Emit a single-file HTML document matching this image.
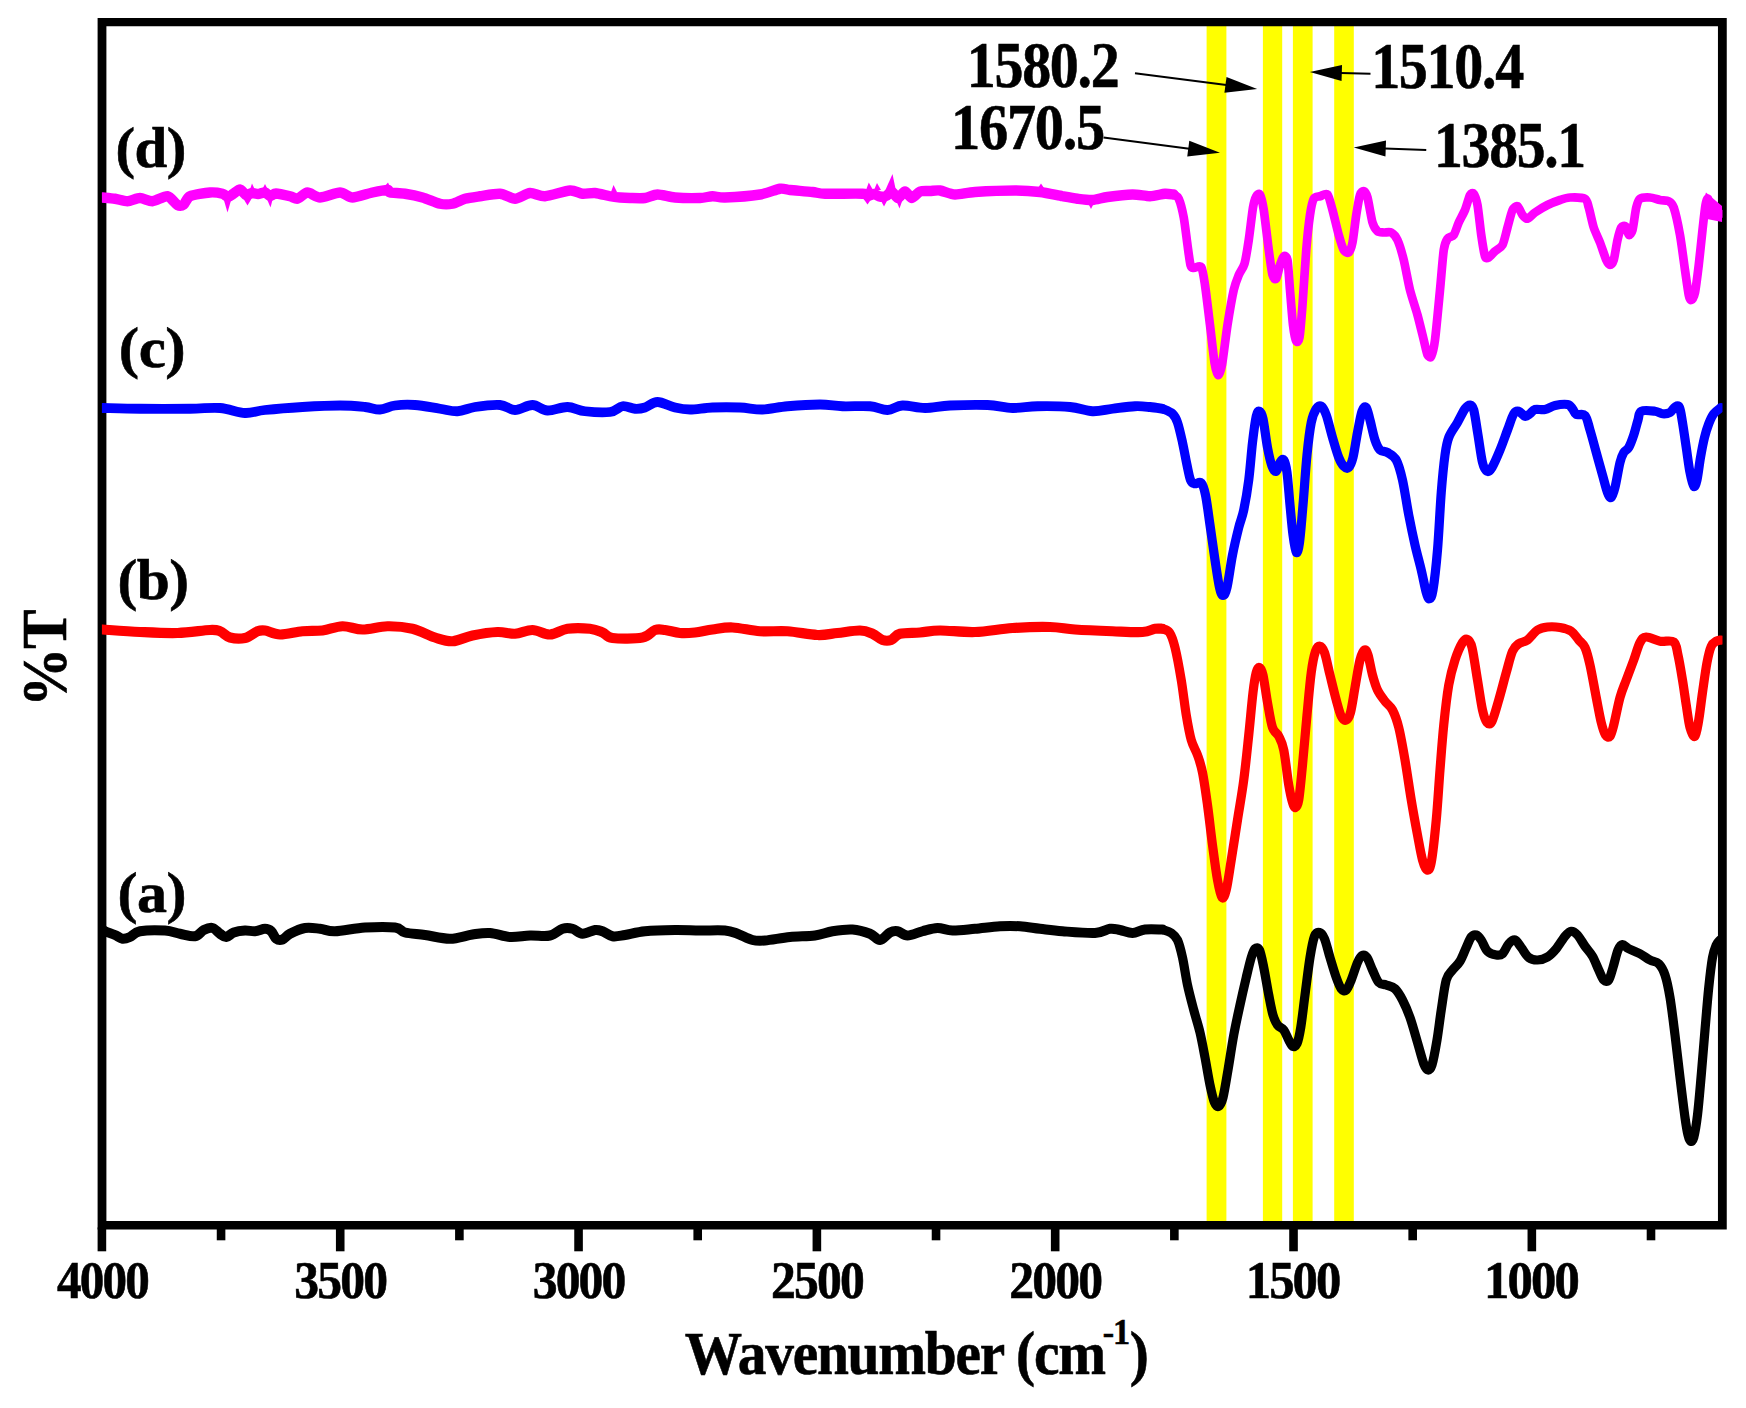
<!DOCTYPE html>
<html lang="en"><head><meta charset="utf-8"><title>FTIR spectra</title>
<style>html,body{margin:0;padding:0;background:#fff}svg{display:block}text{font-family:"Liberation Serif","Times New Roman",serif;font-weight:bold;fill:#000;stroke:#000;stroke-width:0.6px}</style>
</head><body>
<svg width="1746" height="1408" viewBox="0 0 1746 1408">
<rect x="0" y="0" width="1746" height="1408" fill="#fff"/>
<rect x="1206.6" y="22.0" width="19.8" height="1203.0" fill="#ffff00"/>
<rect x="1262.9" y="22.0" width="19.3" height="1203.0" fill="#ffff00"/>
<rect x="1292.9" y="22.0" width="19.7" height="1203.0" fill="#ffff00"/>
<rect x="1334.2" y="22.0" width="19.6" height="1203.0" fill="#ffff00"/>
<path fill="#000" fill-rule="evenodd" d="M97.60 17.95H1726.75V1229.40H97.60ZM106.40 26.25H1717.95V1221.00H106.40Z"/>
<clipPath id="plotclip"><rect x="101.90" y="0" width="1620.60" height="1408"/></clipPath>
<g fill="none" stroke-linejoin="round" stroke-linecap="round" clip-path="url(#plotclip)">
<path d="M102.50 197.50C104.06 197.66 111.88 198.28 115.00 198.75C118.12 199.22 124.38 201.34 127.50 201.25C130.62 201.16 136.88 198.00 140.00 198.00C143.12 198.00 149.06 201.47 152.50 201.25C155.94 201.03 164.38 195.78 167.50 196.25C170.62 196.72 175.47 203.97 177.50 205.00C179.53 206.03 182.19 205.59 183.75 204.50C185.31 203.41 186.72 197.75 190.00 196.25C193.28 194.75 205.94 192.81 210.00 192.50C214.06 192.19 220.25 193.19 222.50 193.75C224.75 194.31 226.69 196.97 228.00 197.00C229.31 197.03 231.50 194.94 233.00 194.00C234.50 193.06 238.38 189.38 240.00 189.50C241.62 189.62 244.50 194.56 246.00 195.00C247.50 195.44 250.50 193.12 252.00 193.00C253.50 192.88 256.38 194.06 258.00 194.00C259.62 193.94 263.50 192.25 265.00 192.50C266.50 192.75 268.62 195.88 270.00 196.00C271.38 196.12 273.50 193.47 276.00 193.50C278.50 193.53 287.31 195.59 290.00 196.25C292.69 196.91 295.31 199.22 297.50 198.75C299.69 198.28 304.69 192.66 307.50 192.50C310.31 192.34 315.94 197.50 320.00 197.50C324.06 197.50 335.94 192.50 340.00 192.50C344.06 192.50 348.44 197.50 352.50 197.50C356.56 197.50 368.12 193.44 372.50 192.50C376.88 191.56 385.31 190.00 387.50 190.00C389.69 190.00 387.81 192.03 390.00 192.50C392.19 192.97 400.94 193.12 405.00 193.75C409.06 194.38 418.12 196.25 422.50 197.50C426.88 198.75 436.25 202.97 440.00 203.75C443.75 204.53 449.38 204.38 452.50 203.75C455.62 203.12 461.56 199.69 465.00 198.75C468.44 197.81 475.62 196.88 480.00 196.25C484.38 195.62 495.62 193.44 500.00 193.75C504.38 194.06 511.25 198.84 515.00 198.75C518.75 198.66 526.25 193.31 530.00 193.00C533.75 192.69 540.00 196.56 545.00 196.25C550.00 195.94 565.31 190.81 570.00 190.50C574.69 190.19 579.38 193.44 582.50 193.75C585.62 194.06 591.56 192.69 595.00 193.00C598.44 193.31 606.88 195.69 610.00 196.25C613.12 196.81 617.50 197.28 620.00 197.50C622.50 197.72 626.88 197.94 630.00 198.00C633.12 198.06 641.56 198.44 645.00 198.00C648.44 197.56 653.75 194.56 657.50 194.50C661.25 194.44 669.69 197.06 675.00 197.50C680.31 197.94 695.31 198.16 700.00 198.00C704.69 197.84 709.38 196.31 712.50 196.25C715.62 196.19 719.06 197.72 725.00 197.50C730.94 197.28 753.12 195.59 760.00 194.50C766.88 193.41 776.25 189.31 780.00 188.75C783.75 188.19 785.94 189.59 790.00 190.00C794.06 190.41 808.12 191.53 812.50 192.00C816.88 192.47 818.75 193.53 825.00 193.75C831.25 193.97 857.12 193.47 862.50 193.75C867.88 194.03 866.56 195.97 868.00 196.00C869.44 196.03 872.50 193.94 874.00 194.00C875.50 194.06 878.50 196.25 880.00 196.50C881.50 196.75 884.50 196.56 886.00 196.00C887.50 195.44 890.50 191.75 892.00 192.00C893.50 192.25 896.38 198.06 898.00 198.00C899.62 197.94 903.25 191.50 905.00 191.50C906.75 191.50 910.12 198.00 912.00 198.00C913.88 198.00 917.75 192.38 920.00 191.50C922.25 190.62 927.50 191.12 930.00 191.00C932.50 190.88 936.88 190.06 940.00 190.50C943.12 190.94 950.62 194.31 955.00 194.50C959.38 194.69 967.50 192.50 975.00 192.00C982.50 191.50 1006.88 190.50 1015.00 190.50C1023.12 190.50 1034.06 191.28 1040.00 192.00C1045.94 192.72 1057.81 195.41 1062.50 196.25C1067.19 197.09 1073.75 198.28 1077.50 198.75C1081.25 199.22 1088.75 200.22 1092.50 200.00C1096.25 199.78 1102.50 197.69 1107.50 197.00C1112.50 196.31 1127.19 194.59 1132.50 194.50C1137.81 194.41 1145.94 196.34 1150.00 196.25C1154.06 196.16 1162.03 193.97 1165.00 193.75C1167.97 193.53 1172.66 194.41 1173.75 194.50" stroke="#ff00ff" stroke-width="10.4"/>
<path d="M1173.75 194.50C1174.38 195.03 1177.50 195.88 1178.75 198.75C1180.00 201.62 1182.66 211.72 1183.75 217.50C1184.84 223.28 1186.66 239.06 1187.50 245.00C1188.34 250.94 1189.72 262.12 1190.50 265.00C1191.28 267.88 1192.41 267.75 1193.75 268.00C1195.09 268.25 1199.84 264.88 1201.25 267.00C1202.66 269.12 1203.91 277.75 1205.00 285.00C1206.09 292.25 1208.81 315.31 1210.00 325.00C1211.19 334.69 1213.50 356.25 1214.50 362.50C1215.50 368.75 1217.06 374.69 1218.00 375.00C1218.94 375.31 1220.81 371.25 1222.00 365.00C1223.19 358.75 1226.03 334.38 1227.50 325.00C1228.97 315.62 1232.34 296.25 1233.75 290.00C1235.16 283.75 1237.41 278.28 1238.75 275.00C1240.09 271.72 1243.25 268.12 1244.50 263.75C1245.75 259.38 1247.69 247.03 1248.75 240.00C1249.81 232.97 1252.06 212.97 1253.00 207.50C1253.94 202.03 1255.38 197.88 1256.25 196.25C1257.12 194.62 1259.06 192.78 1260.00 194.50C1260.94 196.22 1262.66 203.06 1263.75 210.00C1264.84 216.94 1267.66 241.88 1268.75 250.00C1269.84 258.12 1271.56 271.41 1272.50 275.00C1273.44 278.59 1275.31 280.00 1276.25 278.75C1277.19 277.50 1279.06 267.81 1280.00 265.00C1280.94 262.19 1282.81 256.88 1283.75 256.25C1284.69 255.62 1286.72 255.78 1287.50 260.00C1288.28 264.22 1289.31 281.88 1290.00 290.00C1290.69 298.12 1292.22 318.59 1293.00 325.00C1293.78 331.41 1295.44 339.69 1296.25 341.25C1297.06 342.81 1298.72 342.03 1299.50 337.50C1300.28 332.97 1301.66 315.94 1302.50 305.00C1303.34 294.06 1305.31 261.25 1306.25 250.00C1307.19 238.75 1309.06 221.41 1310.00 215.00C1310.94 208.59 1312.50 201.09 1313.75 198.75C1315.00 196.41 1318.28 196.78 1320.00 196.25C1321.72 195.72 1325.94 192.78 1327.50 194.50C1329.06 196.22 1331.09 204.94 1332.50 210.00C1333.91 215.06 1337.34 230.00 1338.75 235.00C1340.16 240.00 1342.50 247.81 1343.75 250.00C1345.00 252.19 1347.66 253.44 1348.75 252.50C1349.84 251.56 1351.56 247.19 1352.50 242.50C1353.44 237.81 1355.31 220.94 1356.25 215.00C1357.19 209.06 1359.06 197.97 1360.00 195.00C1360.94 192.03 1362.81 190.94 1363.75 191.25C1364.69 191.56 1366.41 193.59 1367.50 197.50C1368.59 201.41 1371.25 218.28 1372.50 222.50C1373.75 226.72 1376.09 230.00 1377.50 231.25C1378.91 232.50 1382.03 232.34 1383.75 232.50C1385.47 232.66 1389.53 231.56 1391.25 232.50C1392.97 233.44 1395.94 236.56 1397.50 240.00C1399.06 243.44 1402.19 253.75 1403.75 260.00C1405.31 266.25 1408.28 283.12 1410.00 290.00C1411.72 296.88 1415.78 308.75 1417.50 315.00C1419.22 321.25 1422.50 335.00 1423.75 340.00C1425.00 345.00 1426.56 352.97 1427.50 355.00C1428.44 357.03 1430.31 358.12 1431.25 356.25C1432.19 354.38 1433.91 348.28 1435.00 340.00C1436.09 331.72 1438.91 301.25 1440.00 290.00C1441.09 278.75 1442.81 256.41 1443.75 250.00C1444.69 243.59 1446.25 240.62 1447.50 238.75C1448.75 236.88 1452.34 237.03 1453.75 235.00C1455.16 232.97 1457.34 225.62 1458.75 222.50C1460.16 219.38 1463.59 213.44 1465.00 210.00C1466.41 206.56 1468.91 197.03 1470.00 195.00C1471.09 192.97 1472.81 192.50 1473.75 193.75C1474.69 195.00 1476.56 199.84 1477.50 205.00C1478.44 210.16 1480.31 228.59 1481.25 235.00C1482.19 241.41 1484.06 253.44 1485.00 256.25C1485.94 259.06 1487.50 258.12 1488.75 257.50C1490.00 256.88 1493.28 252.81 1495.00 251.25C1496.72 249.69 1500.94 247.97 1502.50 245.00C1504.06 242.03 1506.25 231.88 1507.50 227.50C1508.75 223.12 1511.25 212.66 1512.50 210.00C1513.75 207.34 1516.25 205.62 1517.50 206.25C1518.75 206.88 1521.25 213.44 1522.50 215.00C1523.75 216.56 1525.94 219.06 1527.50 218.75C1529.06 218.44 1532.50 214.22 1535.00 212.50C1537.50 210.78 1544.38 206.56 1547.50 205.00C1550.62 203.44 1557.19 200.94 1560.00 200.00C1562.81 199.06 1566.88 197.66 1570.00 197.50C1573.12 197.34 1582.66 197.50 1585.00 198.75C1587.34 200.00 1587.66 203.91 1588.75 207.50C1589.84 211.09 1592.34 223.12 1593.75 227.50C1595.16 231.88 1598.44 238.44 1600.00 242.50C1601.56 246.56 1605.00 257.19 1606.25 260.00C1607.50 262.81 1609.06 265.00 1610.00 265.00C1610.94 265.00 1612.81 263.12 1613.75 260.00C1614.69 256.88 1616.56 244.06 1617.50 240.00C1618.44 235.94 1620.25 229.22 1621.25 227.50C1622.25 225.78 1624.56 225.31 1625.50 226.25C1626.44 227.19 1627.88 234.53 1628.75 235.00C1629.62 235.47 1631.56 233.44 1632.50 230.00C1633.44 226.56 1635.31 211.41 1636.25 207.50C1637.19 203.59 1638.28 200.00 1640.00 198.75C1641.72 197.50 1647.50 197.34 1650.00 197.50C1652.50 197.66 1657.66 199.53 1660.00 200.00C1662.34 200.47 1667.03 200.31 1668.75 201.25C1670.47 202.19 1672.34 203.28 1673.75 207.50C1675.16 211.72 1678.59 227.19 1680.00 235.00C1681.41 242.81 1683.91 262.50 1685.00 270.00C1686.09 277.50 1687.97 291.25 1688.75 295.00C1689.53 298.75 1690.47 300.31 1691.25 300.00C1692.03 299.69 1694.06 296.88 1695.00 292.50C1695.94 288.12 1697.81 272.81 1698.75 265.00C1699.69 257.19 1701.66 237.50 1702.50 230.00C1703.34 222.50 1704.81 208.91 1705.50 205.00C1706.19 201.09 1707.28 197.81 1708.00 198.75C1708.72 199.69 1710.22 210.47 1711.25 212.50C1712.28 214.53 1715.03 214.84 1716.25 215.00C1717.47 215.16 1720.41 213.91 1721.00 213.75" stroke="#ff00ff" stroke-width="8.7"/>
<polygon points="223.0,197.0 232.0,197.0 227.5,212.5" fill="#ff00ff" stroke="none"/>
<polygon points="249.5,191.0 255.5,191.0 252.0,183.5" fill="#ff00ff" stroke="none"/>
<polygon points="261.5,191.0 268.5,191.0 265.0,184.0" fill="#ff00ff" stroke="none"/>
<polygon points="266.5,198.0 273.0,198.0 270.5,207.5" fill="#ff00ff" stroke="none"/>
<polygon points="243.0,198.0 252.0,198.0 247.5,205.5" fill="#ff00ff" stroke="none"/>
<polygon points="866.0,190.0 873.0,190.0 868.8,182.5" fill="#ff00ff" stroke="none"/>
<polygon points="874.0,190.0 881.0,190.0 877.0,183.0" fill="#ff00ff" stroke="none"/>
<polygon points="885.0,191.0 896.0,191.0 892.5,174.0" fill="#ff00ff" stroke="none"/>
<polygon points="863.0,198.0 872.0,198.0 867.5,204.5" fill="#ff00ff" stroke="none"/>
<polygon points="880.0,199.0 888.0,199.0 884.0,206.5" fill="#ff00ff" stroke="none"/>
<polygon points="896.0,200.0 902.5,200.0 899.5,208.5" fill="#ff00ff" stroke="none"/>
<polygon points="611.0,192.0 617.0,192.0 613.5,185.0" fill="#ff00ff" stroke="none"/>
<polygon points="1038.0,188.0 1044.0,188.0 1041.0,183.5" fill="#ff00ff" stroke="none"/>
<polygon points="1088.0,203.0 1094.0,203.0 1091.0,209.0" fill="#ff00ff" stroke="none"/>
<polygon points="384.0,187.0 390.0,187.0 388.0,182.5" fill="#ff00ff" stroke="none"/>
<polygon points="1703.5,200.0 1706.0,192.5 1722.0,206.0 1722.0,222.0 1707.0,219.0" fill="#ff00ff" stroke="none"/>
<path d="M102.50 408.00C108.75 408.12 125.42 408.62 140.00 408.75C154.58 408.88 176.67 408.88 190.00 408.75C203.33 408.62 210.83 407.29 220.00 408.00C229.17 408.71 237.50 412.67 245.00 413.00C252.50 413.33 255.42 411.00 265.00 410.00C274.58 409.00 290.00 407.75 302.50 407.00C315.00 406.25 329.58 405.50 340.00 405.50C350.42 405.50 358.33 406.33 365.00 407.00C371.67 407.67 375.00 409.75 380.00 409.50C385.00 409.25 389.17 406.25 395.00 405.50C400.83 404.75 407.50 404.46 415.00 405.00C422.50 405.54 432.92 407.71 440.00 408.75C447.08 409.79 451.67 411.54 457.50 411.25C463.33 410.96 467.92 408.04 475.00 407.00C482.08 405.96 493.33 404.50 500.00 405.00C506.67 405.50 509.58 410.00 515.00 410.00C520.42 410.00 527.08 404.92 532.50 405.00C537.92 405.08 541.67 410.17 547.50 410.50C553.33 410.83 561.25 406.88 567.50 407.00C573.75 407.12 577.92 410.42 585.00 411.25C592.08 412.08 603.75 412.83 610.00 412.00C616.25 411.17 618.33 406.79 622.50 406.25C626.67 405.71 631.25 408.54 635.00 408.75C638.75 408.96 641.25 408.62 645.00 407.50C648.75 406.38 652.50 402.00 657.50 402.00C662.50 402.00 669.58 406.25 675.00 407.50C680.42 408.75 683.75 409.50 690.00 409.50C696.25 409.50 704.17 407.83 712.50 407.50C720.83 407.17 731.67 407.17 740.00 407.50C748.33 407.83 754.58 409.71 762.50 409.50C770.42 409.29 777.92 407.08 787.50 406.25C797.08 405.42 810.83 404.50 820.00 404.50C829.17 404.50 834.17 405.96 842.50 406.25C850.83 406.54 862.50 405.62 870.00 406.25C877.50 406.88 882.08 410.12 887.50 410.00C892.92 409.88 896.25 405.83 902.50 405.50C908.75 405.17 917.08 408.00 925.00 408.00C932.92 408.00 939.58 406.00 950.00 405.50C960.42 405.00 977.08 404.58 987.50 405.00C997.92 405.42 1004.17 407.79 1012.50 408.00C1020.83 408.21 1027.92 406.42 1037.50 406.25C1047.08 406.08 1060.83 406.17 1070.00 407.00C1079.17 407.83 1085.42 410.96 1092.50 411.25C1099.58 411.54 1105.42 409.58 1112.50 408.75C1119.58 407.92 1128.75 406.54 1135.00 406.25C1141.25 405.96 1145.42 406.58 1150.00 407.00C1154.58 407.42 1160.42 408.46 1162.50 408.75" stroke="#0000ff" stroke-width="9.8"/>
<path d="M1162.50 408.75C1164.17 409.58 1170.00 411.46 1172.50 413.75C1175.00 416.04 1175.83 417.71 1177.50 422.50C1179.17 427.29 1180.92 435.42 1182.50 442.50C1184.08 449.58 1185.67 458.75 1187.00 465.00C1188.33 471.25 1189.25 476.88 1190.50 480.00C1191.75 483.12 1192.71 483.25 1194.50 483.75C1196.29 484.25 1199.42 481.12 1201.25 483.00C1203.08 484.88 1204.04 488.00 1205.50 495.00C1206.96 502.00 1208.42 514.17 1210.00 525.00C1211.58 535.83 1213.42 549.58 1215.00 560.00C1216.58 570.42 1218.17 581.58 1219.50 587.50C1220.83 593.42 1221.75 595.50 1223.00 595.50C1224.25 595.50 1225.42 594.25 1227.00 587.50C1228.58 580.75 1230.54 565.00 1232.50 555.00C1234.46 545.00 1236.88 535.00 1238.75 527.50C1240.62 520.00 1242.08 517.92 1243.75 510.00C1245.42 502.08 1247.29 491.25 1248.75 480.00C1250.21 468.75 1251.25 453.12 1252.50 442.50C1253.75 431.88 1255.08 421.46 1256.25 416.25C1257.42 411.04 1258.38 410.83 1259.50 411.25C1260.62 411.67 1261.67 412.71 1263.00 418.75C1264.33 424.79 1266.00 439.58 1267.50 447.50C1269.00 455.42 1270.54 462.29 1272.00 466.25C1273.46 470.21 1274.92 471.88 1276.25 471.25C1277.58 470.62 1278.75 464.38 1280.00 462.50C1281.25 460.62 1282.58 458.33 1283.75 460.00C1284.92 461.67 1285.96 465.00 1287.00 472.50C1288.04 480.00 1289.00 494.58 1290.00 505.00C1291.00 515.42 1291.96 527.08 1293.00 535.00C1294.04 542.92 1295.17 551.25 1296.25 552.50C1297.33 553.75 1298.38 550.42 1299.50 542.50C1300.62 534.58 1301.75 519.58 1303.00 505.00C1304.25 490.42 1305.62 468.75 1307.00 455.00C1308.38 441.25 1309.71 430.21 1311.25 422.50C1312.79 414.79 1314.58 411.46 1316.25 408.75C1317.92 406.04 1319.58 405.21 1321.25 406.25C1322.92 407.29 1324.38 409.79 1326.25 415.00C1328.12 420.21 1330.42 430.42 1332.50 437.50C1334.58 444.58 1336.88 452.71 1338.75 457.50C1340.62 462.29 1342.08 464.58 1343.75 466.25C1345.42 467.92 1347.21 468.96 1348.75 467.50C1350.29 466.04 1351.54 463.33 1353.00 457.50C1354.46 451.67 1356.00 440.21 1357.50 432.50C1359.00 424.79 1360.54 415.42 1362.00 411.25C1363.46 407.08 1364.92 406.04 1366.25 407.50C1367.58 408.96 1368.54 414.58 1370.00 420.00C1371.46 425.42 1373.33 435.00 1375.00 440.00C1376.67 445.00 1377.92 447.92 1380.00 450.00C1382.08 452.08 1384.79 450.83 1387.50 452.50C1390.21 454.17 1393.75 455.42 1396.25 460.00C1398.75 464.58 1400.42 470.83 1402.50 480.00C1404.58 489.17 1406.67 504.17 1408.75 515.00C1410.83 525.83 1412.92 535.83 1415.00 545.00C1417.08 554.17 1419.38 562.08 1421.25 570.00C1423.12 577.92 1424.88 587.71 1426.25 592.50C1427.62 597.29 1428.38 599.17 1429.50 598.75C1430.62 598.33 1431.67 598.12 1433.00 590.00C1434.33 581.88 1436.12 566.25 1437.50 550.00C1438.88 533.75 1440.00 508.33 1441.25 492.50C1442.50 476.67 1443.75 464.17 1445.00 455.00C1446.25 445.83 1446.67 442.92 1448.75 437.50C1450.83 432.08 1454.79 427.29 1457.50 422.50C1460.21 417.71 1462.92 411.67 1465.00 408.75C1467.08 405.83 1468.54 404.79 1470.00 405.00C1471.46 405.21 1472.42 405.00 1473.75 410.00C1475.08 415.00 1476.54 426.25 1478.00 435.00C1479.46 443.75 1481.00 456.46 1482.50 462.50C1484.00 468.54 1485.42 470.42 1487.00 471.25C1488.58 472.08 1489.83 471.04 1492.00 467.50C1494.17 463.96 1497.42 456.25 1500.00 450.00C1502.58 443.75 1505.21 436.04 1507.50 430.00C1509.79 423.96 1511.88 416.88 1513.75 413.75C1515.62 410.62 1516.88 410.83 1518.75 411.25C1520.62 411.67 1523.12 415.83 1525.00 416.25C1526.88 416.67 1528.33 414.88 1530.00 413.75C1531.67 412.62 1532.50 410.21 1535.00 409.50C1537.50 408.79 1541.67 410.17 1545.00 409.50C1548.33 408.83 1551.25 406.33 1555.00 405.50C1558.75 404.67 1564.58 403.96 1567.50 404.50C1570.42 405.04 1571.04 407.08 1572.50 408.75C1573.96 410.42 1574.17 413.38 1576.25 414.50C1578.33 415.62 1582.71 412.92 1585.00 415.50C1587.29 418.08 1588.12 423.83 1590.00 430.00C1591.88 436.17 1594.17 445.00 1596.25 452.50C1598.33 460.00 1600.62 468.33 1602.50 475.00C1604.38 481.67 1606.04 488.75 1607.50 492.50C1608.96 496.25 1610.00 498.33 1611.25 497.50C1612.50 496.67 1613.54 493.33 1615.00 487.50C1616.46 481.67 1618.54 468.33 1620.00 462.50C1621.46 456.67 1622.29 455.00 1623.75 452.50C1625.21 450.00 1627.08 450.42 1628.75 447.50C1630.42 444.58 1632.21 439.58 1633.75 435.00C1635.29 430.42 1636.75 423.96 1638.00 420.00C1639.25 416.04 1638.42 412.71 1641.25 411.25C1644.08 409.79 1651.46 410.83 1655.00 411.25C1658.54 411.67 1660.00 413.54 1662.50 413.75C1665.00 413.96 1667.92 413.62 1670.00 412.50C1672.08 411.38 1673.42 407.83 1675.00 407.00C1676.58 406.17 1678.25 404.92 1679.50 407.50C1680.75 410.08 1681.38 415.83 1682.50 422.50C1683.62 429.17 1685.00 439.17 1686.25 447.50C1687.50 455.83 1688.75 466.04 1690.00 472.50C1691.25 478.96 1692.58 485.00 1693.75 486.25C1694.92 487.50 1695.88 484.79 1697.00 480.00C1698.12 475.21 1699.25 464.58 1700.50 457.50C1701.75 450.42 1703.12 443.12 1704.50 437.50C1705.88 431.88 1707.21 427.71 1708.75 423.75C1710.29 419.79 1711.71 416.46 1713.75 413.75C1715.79 411.04 1719.79 408.54 1721.00 407.50" stroke="#0000ff" stroke-width="9.2"/>
<path d="M102.50 629.50C108.75 629.92 127.50 631.42 140.00 632.00C152.50 632.58 165.83 633.33 177.50 633.00C189.17 632.67 202.92 630.29 210.00 630.00C217.08 629.71 216.67 630.00 220.00 631.25C223.33 632.50 225.83 636.38 230.00 637.50C234.17 638.62 240.42 639.04 245.00 638.00C249.58 636.96 254.17 632.50 257.50 631.25C260.83 630.00 261.25 629.96 265.00 630.50C268.75 631.04 273.75 634.38 280.00 634.50C286.25 634.62 295.42 631.92 302.50 631.25C309.58 630.58 315.83 631.33 322.50 630.50C329.17 629.67 335.83 626.42 342.50 626.25C349.17 626.08 355.00 629.50 362.50 629.50C370.00 629.50 379.17 626.38 387.50 626.25C395.83 626.12 404.58 626.88 412.50 628.75C420.42 630.62 428.33 635.42 435.00 637.50C441.67 639.58 446.25 641.58 452.50 641.25C458.75 640.92 465.00 637.04 472.50 635.50C480.00 633.96 490.42 632.29 497.50 632.00C504.58 631.71 509.17 634.08 515.00 633.75C520.83 633.42 526.67 629.88 532.50 630.00C538.33 630.12 544.17 634.71 550.00 634.50C555.83 634.29 560.83 629.71 567.50 628.75C574.17 627.79 584.17 628.12 590.00 628.75C595.83 629.38 598.75 630.96 602.50 632.50C606.25 634.04 605.83 637.17 612.50 638.00C619.17 638.83 635.42 638.83 642.50 637.50C649.58 636.17 651.25 631.25 655.00 630.00C658.75 628.75 660.83 629.50 665.00 630.00C669.17 630.50 675.00 632.58 680.00 633.00C685.00 633.42 689.58 633.08 695.00 632.50C700.42 631.92 706.25 630.33 712.50 629.50C718.75 628.67 724.58 627.21 732.50 627.50C740.42 627.79 750.83 630.62 760.00 631.25C769.17 631.88 777.92 630.62 787.50 631.25C797.08 631.88 809.17 634.71 817.50 635.00C825.83 635.29 830.42 633.75 837.50 633.00C844.58 632.25 854.17 630.38 860.00 630.50C865.83 630.62 868.75 632.17 872.50 633.75C876.25 635.33 879.38 638.96 882.50 640.00C885.62 641.04 888.33 641.04 891.25 640.00C894.17 638.96 895.21 635.00 900.00 633.75C904.79 632.50 913.33 633.04 920.00 632.50C926.67 631.96 930.83 630.58 940.00 630.50C949.17 630.42 962.92 632.42 975.00 632.00C987.08 631.58 1000.00 628.83 1012.50 628.00C1025.00 627.17 1039.58 626.75 1050.00 627.00C1060.42 627.25 1064.58 628.79 1075.00 629.50C1085.42 630.21 1101.25 630.83 1112.50 631.25C1123.75 631.67 1135.42 632.42 1142.50 632.00C1149.58 631.58 1151.67 629.29 1155.00 628.75C1158.33 628.21 1161.25 628.75 1162.50 628.75" stroke="#ff0000" stroke-width="10.2"/>
<path d="M1162.50 628.75C1163.67 629.38 1167.42 629.38 1169.50 632.50C1171.58 635.62 1173.04 639.58 1175.00 647.50C1176.96 655.42 1179.38 668.75 1181.25 680.00C1183.12 691.25 1184.58 705.00 1186.25 715.00C1187.92 725.00 1189.38 733.33 1191.25 740.00C1193.12 746.67 1195.62 749.58 1197.50 755.00C1199.38 760.42 1200.83 764.17 1202.50 772.50C1204.17 780.83 1205.83 792.92 1207.50 805.00C1209.17 817.08 1210.83 832.50 1212.50 845.00C1214.17 857.50 1215.92 871.25 1217.50 880.00C1219.08 888.75 1220.54 895.83 1222.00 897.50C1223.46 899.17 1224.71 896.25 1226.25 890.00C1227.79 883.75 1229.38 871.67 1231.25 860.00C1233.12 848.33 1235.42 833.33 1237.50 820.00C1239.58 806.67 1241.88 794.17 1243.75 780.00C1245.62 765.83 1247.21 749.58 1248.75 735.00C1250.29 720.42 1251.75 702.92 1253.00 692.50C1254.25 682.08 1255.17 676.67 1256.25 672.50C1257.33 668.33 1258.38 667.08 1259.50 667.50C1260.62 667.92 1261.67 669.17 1263.00 675.00C1264.33 680.83 1265.92 693.75 1267.50 702.50C1269.08 711.25 1270.62 721.88 1272.50 727.50C1274.38 733.12 1276.88 732.50 1278.75 736.25C1280.62 740.00 1282.08 741.88 1283.75 750.00C1285.42 758.12 1287.29 776.25 1288.75 785.00C1290.21 793.75 1291.38 798.75 1292.50 802.50C1293.62 806.25 1294.46 807.92 1295.50 807.50C1296.54 807.08 1297.58 807.08 1298.75 800.00C1299.92 792.92 1301.12 779.17 1302.50 765.00C1303.88 750.83 1305.54 730.42 1307.00 715.00C1308.46 699.58 1309.83 683.12 1311.25 672.50C1312.67 661.88 1314.04 655.62 1315.50 651.25C1316.96 646.88 1318.50 646.04 1320.00 646.25C1321.50 646.46 1322.83 647.71 1324.50 652.50C1326.17 657.29 1328.04 667.08 1330.00 675.00C1331.96 682.92 1334.38 693.12 1336.25 700.00C1338.12 706.88 1339.58 712.92 1341.25 716.25C1342.92 719.58 1344.71 720.62 1346.25 720.00C1347.79 719.38 1349.04 717.92 1350.50 712.50C1351.96 707.08 1353.42 696.25 1355.00 687.50C1356.58 678.75 1358.42 666.25 1360.00 660.00C1361.58 653.75 1363.17 650.83 1364.50 650.00C1365.83 649.17 1366.67 650.83 1368.00 655.00C1369.33 659.17 1370.92 669.17 1372.50 675.00C1374.08 680.83 1375.42 685.62 1377.50 690.00C1379.58 694.38 1382.50 697.92 1385.00 701.25C1387.50 704.58 1390.21 705.62 1392.50 710.00C1394.79 714.38 1396.67 719.17 1398.75 727.50C1400.83 735.83 1402.92 747.92 1405.00 760.00C1407.08 772.08 1409.17 787.50 1411.25 800.00C1413.33 812.50 1415.62 825.00 1417.50 835.00C1419.38 845.00 1420.92 854.17 1422.50 860.00C1424.08 865.83 1425.54 869.58 1427.00 870.00C1428.46 870.42 1429.71 870.83 1431.25 862.50C1432.79 854.17 1434.79 835.42 1436.25 820.00C1437.71 804.58 1438.75 785.83 1440.00 770.00C1441.25 754.17 1442.29 739.17 1443.75 725.00C1445.21 710.83 1446.88 695.83 1448.75 685.00C1450.62 674.17 1452.71 667.08 1455.00 660.00C1457.29 652.92 1460.42 645.92 1462.50 642.50C1464.58 639.08 1465.92 638.67 1467.50 639.50C1469.08 640.33 1470.33 640.75 1472.00 647.50C1473.67 654.25 1475.75 669.58 1477.50 680.00C1479.25 690.42 1480.92 702.92 1482.50 710.00C1484.08 717.08 1485.42 720.62 1487.00 722.50C1488.58 724.38 1490.04 725.00 1492.00 721.25C1493.96 717.50 1496.38 708.12 1498.75 700.00C1501.12 691.88 1503.96 680.62 1506.25 672.50C1508.54 664.38 1510.42 656.04 1512.50 651.25C1514.58 646.46 1516.25 645.62 1518.75 643.75C1521.25 641.88 1524.38 642.29 1527.50 640.00C1530.62 637.71 1534.17 632.17 1537.50 630.00C1540.83 627.83 1543.75 627.42 1547.50 627.00C1551.25 626.58 1556.04 626.79 1560.00 627.50C1563.96 628.21 1568.12 629.17 1571.25 631.25C1574.38 633.33 1576.46 637.29 1578.75 640.00C1581.04 642.71 1583.12 643.33 1585.00 647.50C1586.88 651.67 1588.12 656.67 1590.00 665.00C1591.88 673.33 1594.38 687.92 1596.25 697.50C1598.12 707.08 1599.71 716.25 1601.25 722.50C1602.79 728.75 1604.04 732.71 1605.50 735.00C1606.96 737.29 1608.62 737.92 1610.00 736.25C1611.38 734.58 1612.08 731.46 1613.75 725.00C1615.42 718.54 1617.92 705.00 1620.00 697.50C1622.08 690.00 1623.96 686.25 1626.25 680.00C1628.54 673.75 1631.46 666.25 1633.75 660.00C1636.04 653.75 1637.92 646.33 1640.00 642.50C1642.08 638.67 1642.92 637.21 1646.25 637.00C1649.58 636.79 1655.42 640.42 1660.00 641.25C1664.58 642.08 1670.75 639.71 1673.75 642.00C1676.75 644.29 1676.54 648.67 1678.00 655.00C1679.46 661.33 1681.12 671.67 1682.50 680.00C1683.88 688.33 1685.00 697.08 1686.25 705.00C1687.50 712.92 1688.54 722.29 1690.00 727.50C1691.46 732.71 1693.54 737.50 1695.00 736.25C1696.46 735.00 1697.50 727.29 1698.75 720.00C1700.00 712.71 1701.12 702.08 1702.50 692.50C1703.88 682.92 1705.54 670.21 1707.00 662.50C1708.46 654.79 1709.71 649.79 1711.25 646.25C1712.79 642.71 1714.62 642.29 1716.25 641.25C1717.88 640.21 1720.21 640.21 1721.00 640.00" stroke="#ff0000" stroke-width="9.2"/>
<path d="M101.00 928.50C101.67 928.96 102.67 930.17 105.00 931.25C107.33 932.33 112.08 933.75 115.00 935.00C117.92 936.25 120.00 938.42 122.50 938.75C125.00 939.08 127.08 938.25 130.00 937.00C132.92 935.75 134.17 932.33 140.00 931.25C145.83 930.17 158.33 930.08 165.00 930.50C171.67 930.92 175.00 932.79 180.00 933.75C185.00 934.71 191.04 936.88 195.00 936.25C198.96 935.62 200.83 931.38 203.75 930.00C206.67 928.62 209.79 927.38 212.50 928.00C215.21 928.62 217.71 932.25 220.00 933.75C222.29 935.25 223.96 937.21 226.25 937.00C228.54 936.79 230.62 933.58 233.75 932.50C236.88 931.42 241.46 930.71 245.00 930.50C248.54 930.29 251.67 931.54 255.00 931.25C258.33 930.96 262.29 928.75 265.00 928.75C267.71 928.75 269.38 929.58 271.25 931.25C273.12 932.92 274.38 937.38 276.25 938.75C278.12 940.12 280.21 940.33 282.50 939.50C284.79 938.67 286.25 935.67 290.00 933.75C293.75 931.83 300.00 928.83 305.00 928.00C310.00 927.17 315.00 928.21 320.00 928.75C325.00 929.29 327.50 931.46 335.00 931.25C342.50 931.04 355.00 928.12 365.00 927.50C375.00 926.88 388.33 926.67 395.00 927.50C401.67 928.33 400.00 931.25 405.00 932.50C410.00 933.75 417.50 933.96 425.00 935.00C432.50 936.04 442.08 938.83 450.00 938.75C457.92 938.67 465.83 935.46 472.50 934.50C479.17 933.54 483.75 932.58 490.00 933.00C496.25 933.42 503.33 936.58 510.00 937.00C516.67 937.42 523.33 935.75 530.00 935.50C536.67 935.25 544.58 936.62 550.00 935.50C555.42 934.38 558.75 929.88 562.50 928.75C566.25 927.62 569.17 927.92 572.50 928.75C575.83 929.58 578.75 933.54 582.50 933.75C586.25 933.96 591.67 930.42 595.00 930.00C598.33 929.58 599.58 930.21 602.50 931.25C605.42 932.29 608.75 935.62 612.50 936.25C616.25 936.88 619.58 935.83 625.00 935.00C630.42 934.17 636.67 932.08 645.00 931.25C653.33 930.42 665.83 930.12 675.00 930.00C684.17 929.88 691.67 930.42 700.00 930.50C708.33 930.58 718.75 929.96 725.00 930.50C731.25 931.04 732.92 932.17 737.50 933.75C742.08 935.33 747.92 938.88 752.50 940.00C757.08 941.12 758.75 941.00 765.00 940.50C771.25 940.00 781.67 937.83 790.00 937.00C798.33 936.17 807.92 936.46 815.00 935.50C822.08 934.54 826.25 932.25 832.50 931.25C838.75 930.25 846.25 929.08 852.50 929.50C858.75 929.92 865.42 932.00 870.00 933.75C874.58 935.50 876.67 940.21 880.00 940.00C883.33 939.79 887.08 933.96 890.00 932.50C892.92 931.04 894.58 930.75 897.50 931.25C900.42 931.75 903.33 935.50 907.50 935.50C911.67 935.50 917.50 932.50 922.50 931.25C927.50 930.00 932.50 928.12 937.50 928.00C942.50 927.88 946.25 930.38 952.50 930.50C958.75 930.62 967.08 929.46 975.00 928.75C982.92 928.04 992.50 926.67 1000.00 926.25C1007.50 925.83 1013.33 925.83 1020.00 926.25C1026.67 926.67 1032.92 927.92 1040.00 928.75C1047.08 929.58 1053.33 930.54 1062.50 931.25C1071.67 931.96 1087.08 933.42 1095.00 933.00C1102.92 932.58 1105.83 929.25 1110.00 928.75C1114.17 928.25 1116.25 929.29 1120.00 930.00C1123.75 930.71 1128.33 933.08 1132.50 933.00C1136.67 932.92 1140.00 930.08 1145.00 929.50C1150.00 928.92 1159.58 929.50 1162.50 929.50" stroke="#000000" stroke-width="10.0"/>
<path d="M1162.50 929.50C1163.96 930.08 1168.75 931.25 1171.25 933.00C1173.75 934.75 1175.62 935.92 1177.50 940.00C1179.38 944.08 1180.83 950.00 1182.50 957.50C1184.17 965.00 1185.62 976.25 1187.50 985.00C1189.38 993.75 1191.67 1002.08 1193.75 1010.00C1195.83 1017.92 1198.12 1024.58 1200.00 1032.50C1201.88 1040.42 1203.33 1048.75 1205.00 1057.50C1206.67 1066.25 1208.42 1077.50 1210.00 1085.00C1211.58 1092.50 1213.04 1098.96 1214.50 1102.50C1215.96 1106.04 1217.33 1107.08 1218.75 1106.25C1220.17 1105.42 1221.46 1103.54 1223.00 1097.50C1224.54 1091.46 1226.21 1080.42 1228.00 1070.00C1229.79 1059.58 1231.75 1045.83 1233.75 1035.00C1235.75 1024.17 1237.92 1014.58 1240.00 1005.00C1242.08 995.42 1244.38 985.42 1246.25 977.50C1248.12 969.58 1249.79 962.29 1251.25 957.50C1252.71 952.71 1253.62 950.00 1255.00 948.75C1256.38 947.50 1258.04 946.88 1259.50 950.00C1260.96 953.12 1262.21 960.00 1263.75 967.50C1265.29 975.00 1267.21 987.08 1268.75 995.00C1270.29 1002.92 1271.54 1010.00 1273.00 1015.00C1274.46 1020.00 1275.71 1022.50 1277.50 1025.00C1279.29 1027.50 1281.88 1027.50 1283.75 1030.00C1285.62 1032.50 1287.29 1037.29 1288.75 1040.00C1290.21 1042.71 1291.12 1045.62 1292.50 1046.25C1293.88 1046.88 1295.62 1046.88 1297.00 1043.75C1298.38 1040.62 1299.42 1035.62 1300.75 1027.50C1302.08 1019.38 1303.46 1006.67 1305.00 995.00C1306.54 983.33 1308.42 967.29 1310.00 957.50C1311.58 947.71 1312.92 940.42 1314.50 936.25C1316.08 932.08 1317.83 932.08 1319.50 932.50C1321.17 932.92 1322.75 934.58 1324.50 938.75C1326.25 942.92 1328.04 951.04 1330.00 957.50C1331.96 963.96 1334.38 972.29 1336.25 977.50C1338.12 982.71 1339.58 986.67 1341.25 988.75C1342.92 990.83 1344.58 991.46 1346.25 990.00C1347.92 988.54 1349.38 984.58 1351.25 980.00C1353.12 975.42 1355.71 966.58 1357.50 962.50C1359.29 958.42 1360.42 956.33 1362.00 955.50C1363.58 954.67 1365.25 955.08 1367.00 957.50C1368.75 959.92 1370.54 965.83 1372.50 970.00C1374.46 974.17 1376.46 980.00 1378.75 982.50C1381.04 985.00 1383.54 983.96 1386.25 985.00C1388.96 986.04 1392.29 986.25 1395.00 988.75C1397.71 991.25 1400.00 995.21 1402.50 1000.00C1405.00 1004.79 1407.50 1010.42 1410.00 1017.50C1412.50 1024.58 1415.21 1034.79 1417.50 1042.50C1419.79 1050.21 1422.00 1059.17 1423.75 1063.75C1425.50 1068.33 1426.62 1069.79 1428.00 1070.00C1429.38 1070.21 1430.50 1070.00 1432.00 1065.00C1433.50 1060.00 1435.46 1049.17 1437.00 1040.00C1438.54 1030.83 1439.71 1020.00 1441.25 1010.00C1442.79 1000.00 1444.38 986.67 1446.25 980.00C1448.12 973.33 1450.21 973.12 1452.50 970.00C1454.79 966.88 1457.71 965.00 1460.00 961.25C1462.29 957.50 1464.38 951.54 1466.25 947.50C1468.12 943.46 1469.58 939.08 1471.25 937.00C1472.92 934.92 1474.58 934.50 1476.25 935.00C1477.92 935.50 1479.38 937.29 1481.25 940.00C1483.12 942.71 1485.00 948.75 1487.50 951.25C1490.00 953.75 1493.75 954.58 1496.25 955.00C1498.75 955.42 1500.42 955.62 1502.50 953.75C1504.58 951.88 1506.67 946.04 1508.75 943.75C1510.83 941.46 1512.92 939.38 1515.00 940.00C1517.08 940.62 1518.96 944.58 1521.25 947.50C1523.54 950.42 1526.04 955.42 1528.75 957.50C1531.46 959.58 1534.38 960.08 1537.50 960.00C1540.62 959.92 1544.38 958.88 1547.50 957.00C1550.62 955.12 1553.33 952.21 1556.25 948.75C1559.17 945.29 1562.50 939.17 1565.00 936.25C1567.50 933.33 1569.17 931.46 1571.25 931.25C1573.33 931.04 1575.21 932.50 1577.50 935.00C1579.79 937.50 1582.50 942.71 1585.00 946.25C1587.50 949.79 1590.21 952.29 1592.50 956.25C1594.79 960.21 1596.88 966.04 1598.75 970.00C1600.62 973.96 1602.08 978.33 1603.75 980.00C1605.42 981.67 1607.21 982.08 1608.75 980.00C1610.29 977.92 1611.46 972.50 1613.00 967.50C1614.54 962.50 1616.42 953.83 1618.00 950.00C1619.58 946.17 1620.71 944.71 1622.50 944.50C1624.29 944.29 1625.83 947.21 1628.75 948.75C1631.67 950.29 1636.46 951.88 1640.00 953.75C1643.54 955.62 1646.88 958.33 1650.00 960.00C1653.12 961.67 1656.25 961.25 1658.75 963.75C1661.25 966.25 1663.12 969.38 1665.00 975.00C1666.88 980.62 1668.33 987.50 1670.00 997.50C1671.67 1007.50 1673.33 1021.67 1675.00 1035.00C1676.67 1048.33 1678.33 1063.75 1680.00 1077.50C1681.67 1091.25 1683.67 1107.92 1685.00 1117.50C1686.33 1127.08 1687.08 1131.04 1688.00 1135.00C1688.92 1138.96 1689.54 1140.83 1690.50 1141.25C1691.46 1141.67 1692.58 1141.88 1693.75 1137.50C1694.92 1133.12 1696.25 1125.42 1697.50 1115.00C1698.75 1104.58 1700.00 1089.17 1701.25 1075.00C1702.50 1060.83 1703.75 1044.58 1705.00 1030.00C1706.25 1015.42 1707.50 999.58 1708.75 987.50C1710.00 975.42 1711.25 964.58 1712.50 957.50C1713.75 950.42 1715.00 947.92 1716.25 945.00C1717.50 942.08 1719.38 940.83 1720.00 940.00" stroke="#000000" stroke-width="9.2"/>
</g>
<rect x="97.60" y="1227.40" width="8.6" height="23.90" fill="#000"/>
<rect x="216.76" y="1227.40" width="8.6" height="12.90" fill="#000"/>
<rect x="335.92" y="1227.40" width="8.6" height="23.90" fill="#000"/>
<rect x="455.09" y="1227.40" width="8.6" height="12.90" fill="#000"/>
<rect x="574.25" y="1227.40" width="8.6" height="23.90" fill="#000"/>
<rect x="693.41" y="1227.40" width="8.6" height="12.90" fill="#000"/>
<rect x="812.57" y="1227.40" width="8.6" height="23.90" fill="#000"/>
<rect x="931.73" y="1227.40" width="8.6" height="12.90" fill="#000"/>
<rect x="1050.89" y="1227.40" width="8.6" height="23.90" fill="#000"/>
<rect x="1170.06" y="1227.40" width="8.6" height="12.90" fill="#000"/>
<rect x="1289.22" y="1227.40" width="8.6" height="23.90" fill="#000"/>
<rect x="1408.38" y="1227.40" width="8.6" height="12.90" fill="#000"/>
<rect x="1527.54" y="1227.40" width="8.6" height="23.90" fill="#000"/>
<rect x="1646.70" y="1227.40" width="8.6" height="12.90" fill="#000"/>
<text transform="translate(56.98,1297.60) scale(0.9184,1)" font-size="53.5" letter-spacing="-2.0">4000</text>
<text transform="translate(294.37,1297.60) scale(0.9278,1)" font-size="53.5" letter-spacing="-2.0">3500</text>
<text transform="translate(532.69,1297.60) scale(0.9278,1)" font-size="53.5" letter-spacing="-2.0">3000</text>
<text transform="translate(771.01,1297.60) scale(0.9278,1)" font-size="53.5" letter-spacing="-2.0">2500</text>
<text transform="translate(1009.34,1297.60) scale(0.9278,1)" font-size="53.5" letter-spacing="-2.0">2000</text>
<text transform="translate(1245.73,1297.60) scale(0.9474,1)" font-size="53.5" letter-spacing="-2.0">1500</text>
<text transform="translate(1484.05,1297.60) scale(0.9474,1)" font-size="53.5" letter-spacing="-2.0">1000</text>
<text transform="translate(684.80,1373.90) scale(0.9487,1)" font-size="60.5" letter-spacing="-1.3">Wavenumber (cm<tspan font-size="36" dy="-30.3" dx="-2">-1</tspan><tspan dy="30.3" dx="1">)</tspan></text>
<text transform="translate(115.45,167.00) scale(1.0156,1)" font-size="58" letter-spacing="-0.5">(d)</text>
<text transform="translate(118.83,367.30) scale(1.0552,1)" font-size="58" letter-spacing="-0.5">(c)</text>
<text transform="translate(117.42,598.70) scale(1.0266,1)" font-size="58" letter-spacing="-0.5">(b)</text>
<text transform="translate(117.39,911.80) scale(1.0361,1)" font-size="58" letter-spacing="-0.5">(a)</text>
<text transform="translate(966.79,86.80) scale(0.8918,1)" font-size="65" letter-spacing="-1.45">1580.2</text>
<text transform="translate(951.10,149.10) scale(0.8994,1)" font-size="65" letter-spacing="-1.45">1670.5</text>
<text transform="translate(1371.13,88.40) scale(0.8939,1)" font-size="65" letter-spacing="-1.45">1510.4</text>
<text transform="translate(1434.06,166.80) scale(0.8871,1)" font-size="65" letter-spacing="-1.45">1385.1</text>
<text transform="translate(66.2,706.86) rotate(-90) scale(0.9345,1)" font-size="63" letter-spacing="-1.0">%T</text>
<line x1="1135.00" y1="73.25" x2="1226.45" y2="85.04" stroke="#000" stroke-width="2.0"/>
<polygon points="1257.20,89.00 1224.44,92.84 1226.49,76.98" fill="#000"/>
<line x1="1103.50" y1="137.60" x2="1189.26" y2="148.79" stroke="#000" stroke-width="2.0"/>
<polygon points="1220.00,152.80 1187.23,156.59 1189.30,140.73" fill="#000"/>
<line x1="1370.50" y1="73.75" x2="1340.79" y2="72.89" stroke="#000" stroke-width="2.0"/>
<polygon points="1309.80,72.00 1342.02,64.93 1341.56,80.92" fill="#000"/>
<line x1="1426.25" y1="150.00" x2="1384.73" y2="148.57" stroke="#000" stroke-width="2.0"/>
<polygon points="1353.75,147.50 1386.01,140.61 1385.46,156.60" fill="#000"/>
</svg></body></html>
